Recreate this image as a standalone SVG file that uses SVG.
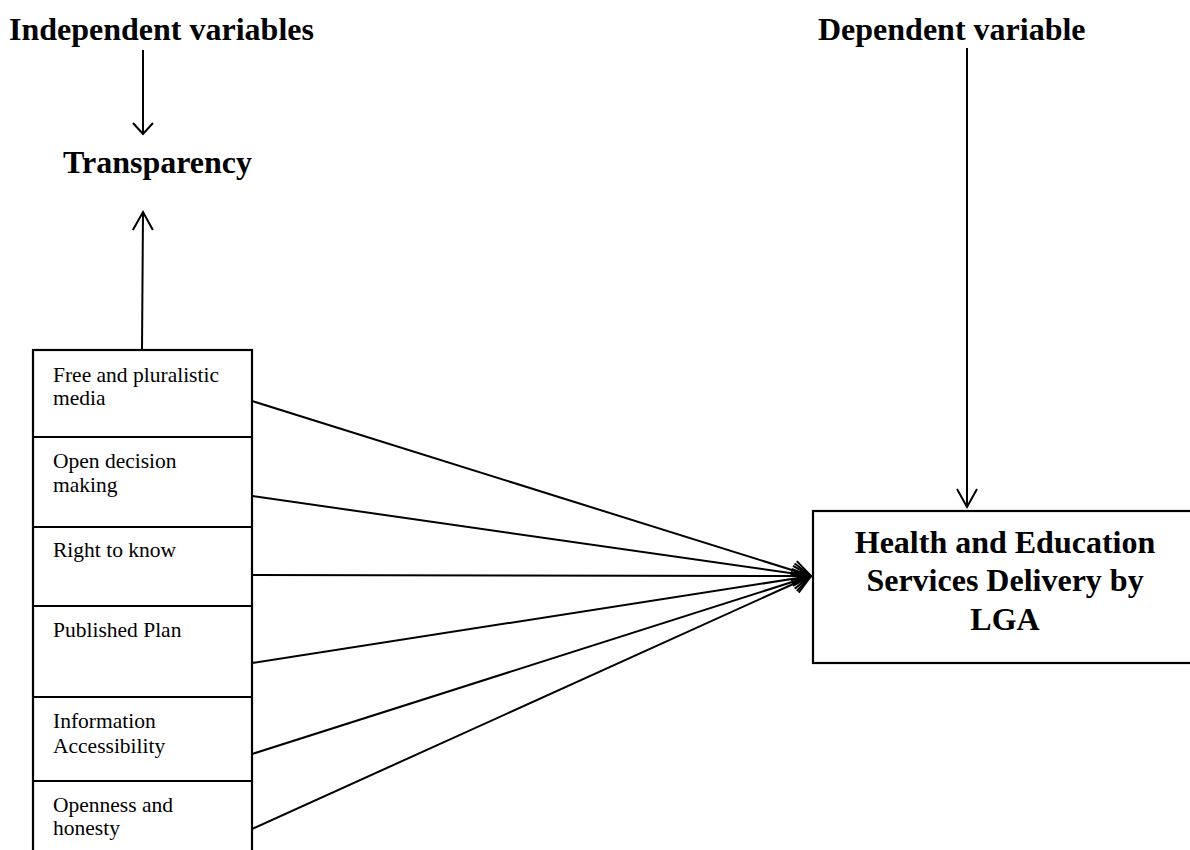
<svg xmlns="http://www.w3.org/2000/svg" width="1190" height="850" viewBox="0 0 1190 850">
<defs>
<style>
.title{font-family:"Liberation Serif","Times New Roman",serif;font-weight:bold;font-size:32px;fill:#000}
.item{font-family:"Liberation Serif","Times New Roman",serif;font-size:21.5px;fill:#000}
.box{fill:#fff;stroke:#000;stroke-width:2.2}
.conn{fill:none;stroke:#000;stroke-width:2}
</style>
<marker id="head" markerUnits="userSpaceOnUse" markerWidth="24" markerHeight="24" viewBox="-20 -12 24 24" refX="0" refY="0" orient="auto">
<path d="M-18,-10 L0,0 L-18,10" fill="none" stroke="#000" stroke-width="2"/>
</marker>
<marker id="headShort" markerUnits="userSpaceOnUse" markerWidth="24" markerHeight="24" viewBox="-20 -12 24 24" refX="0" refY="0" orient="auto">
<path d="M-11,-10 L0,0 L-11,10" fill="none" stroke="#000" stroke-width="2"/>
</marker>
</defs>
<rect width="1190" height="850" fill="#fff"/>

<g id="label-independent"><text class="title" x="9" y="40">Independent variables</text></g>
<g id="label-dependent"><text class="title" x="818" y="40">Dependent variable</text></g>
<g id="transparency"><text class="title" x="63" y="173">Transparency</text></g>

<g id="indicators">
<rect class="box" x="33" y="350" width="219" height="520"/>
<line class="conn" x1="33" y1="437" x2="252" y2="437" stroke-width="2.2"/>
<line class="conn" x1="33" y1="527" x2="252" y2="527" stroke-width="2.2"/>
<line class="conn" x1="33" y1="606" x2="252" y2="606" stroke-width="2.2"/>
<line class="conn" x1="33" y1="697" x2="252" y2="697" stroke-width="2.2"/>
<line class="conn" x1="33" y1="781" x2="252" y2="781" stroke-width="2.2"/>
</g>
<g id="node-media"><text class="item" x="53" y="382">Free and pluralistic</text><text class="item" x="53" y="405">media</text></g>
<g id="node-decision"><text class="item" x="53" y="468">Open decision</text><text class="item" x="53" y="492">making</text></g>
<g id="node-right"><text class="item" x="53" y="557">Right to know</text></g>
<g id="node-plan"><text class="item" x="53" y="637">Published Plan</text></g>
<g id="node-access"><text class="item" x="53" y="728">Information</text><text class="item" x="53" y="753">Accessibility</text></g>
<g id="node-openness"><text class="item" x="53" y="812">Openness and</text><text class="item" x="53" y="835">honesty</text></g>

<g id="outcome">
<rect class="box" x="813" y="511" width="420" height="152"/>
<text class="title" x="1005" y="553" text-anchor="middle">Health and Education</text>
<text class="title" x="1005" y="591" text-anchor="middle">Services Delivery by</text>
<text class="title" x="1005" y="630" text-anchor="middle">LGA</text>
</g>

<g id="connectors">
<line class="conn" x1="143" y1="50" x2="143" y2="134" marker-end="url(#headShort)"/>
<line class="conn" x1="142" y1="350" x2="143" y2="212" marker-end="url(#head)"/>
<line class="conn" x1="967" y1="48" x2="967" y2="507" marker-end="url(#head)"/>
<line class="conn" x1="252" y1="401" x2="811" y2="576" marker-end="url(#head)"/>
<line class="conn" x1="252" y1="496" x2="811" y2="576" marker-end="url(#head)"/>
<line class="conn" x1="252" y1="575" x2="811" y2="576" marker-end="url(#head)"/>
<line class="conn" x1="252" y1="663" x2="811" y2="576" marker-end="url(#head)"/>
<line class="conn" x1="252" y1="754" x2="811" y2="576" marker-end="url(#head)"/>
<line class="conn" x1="252" y1="829" x2="811" y2="576" marker-end="url(#head)"/>
</g>
</svg>
